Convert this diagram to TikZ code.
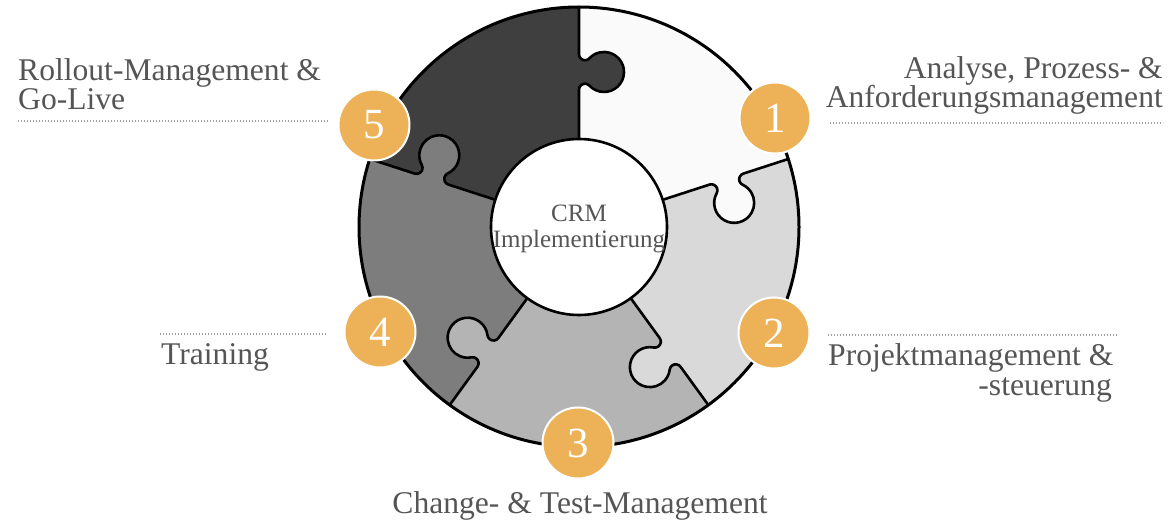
\documentclass[tikz,border=0pt]{standalone}
\usepackage{fontspec}
\setmainfont{Liberation Serif}
\definecolor{txtgray}{HTML}{555555}
\definecolor{dotgray}{HTML}{A0A0A0}
\definecolor{orange1}{RGB}{237,178,87}
\definecolor{c1}{HTML}{FAFAFA}
\definecolor{c2}{HTML}{D9D9D9}
\definecolor{c3}{HTML}{B4B4B4}
\definecolor{c4}{HTML}{7D7D7D}
\definecolor{c5}{HTML}{3F3F3F}
\newcommand\knobshape{arc[start angle=90,end angle=-47,radius=6] arc[start angle=133,end angle=407,radius=20] arc[start angle=227,end angle=90,radius=6]}
\tikzset{
  lbl/.style={text=txtgray, font=\fontsize{31.6}{31.6}\selectfont, inner sep=0pt},
  corelbl/.style={text=txtgray, font=\fontsize{25}{26}\selectfont, inner sep=0pt, align=center},
  dotline/.style={draw=dotgray, line width=1.3pt, dash pattern=on 1.3pt off 1.7pt},
  badge/.style={circle, fill=orange1, draw=white, line width=2pt, minimum size=71pt, inner sep=0pt, text=white, font=\fontsize{43}{43}\selectfont},
  seam/.style={line width=2.6pt, line join=round},
}
\begin{document}
\begin{tikzpicture}[x=1pt,y=1pt]
\useasboundingbox (0,0) rectangle (1169,-526);
\begin{scope}[shift={(579,-227)}]
  % pieces
  \fill[c1] (0,0) -- (18:220) arc[start angle=18,end angle=90,radius=220] -- cycle;
  \fill[c2] (0,0) -- (-54:220) arc[start angle=-54,end angle=18,radius=220] -- cycle;
  \fill[c3] (0,0) -- (-126:220) arc[start angle=-126,end angle=-54,radius=220] -- cycle;
  \fill[c4] (0,0) -- (162:220) arc[start angle=162,end angle=234,radius=220] -- cycle;
  \fill[c5] (0,0) -- (90:220) arc[start angle=90,end angle=162,radius=220] -- cycle;
  % knobs
  \foreach \a/\c in {90/c5,18/c1,-54/c2,-126/c3,162/c4}{
    \fill[\c, rotate=\a] (137.3,0.5) -- (137.3,0) \knobshape -- (172.76,0.5) -- cycle;
  }
  % seams
  \foreach \a in {90,18,-54,-126,162}{
    \draw[seam, rotate=\a] (80,0) -- (137.3,0) \knobshape -- (220,0);
  }
  \draw[line width=3pt] (0,0) circle[radius=220];
  \node[circle, draw, fill=white, line width=2.6pt, minimum size=176pt, inner sep=0pt] (core) at (0,0) {};
  \node[corelbl] (coretxt) at (0,-2) {CRM\\Implementierung};
\end{scope}
% badges
\node[badge] (b1) at (775,-118) {1};
\node[badge] (b2) at (774,-333) {2};
\node[badge] (b3) at (578,-443) {3};
\node[badge] (b4) at (380,-332) {4};
\node[badge] (b5) at (374,-125) {5};
% labels
\node[lbl, anchor=base west] (l5a) at (18,-81) {Rollout-Management \&};
\node[lbl, anchor=base west] (l5b) at (18,-110) {Go-Live};
\coordinate (d5a) at (18,-121);
\coordinate (d5b) at (329,-121);
\draw[dotline] (d5a) -- (d5b);
\node[lbl, anchor=base east] (l1a) at (1163,-79) {Analyse, Prozess- \&};
\node[lbl, anchor=base east] (l1b) at (1163,-108) {Anforderungsmanagement};
\coordinate (d1a) at (830,-123);
\coordinate (d1b) at (1163,-123);
\draw[dotline] (d1a) -- (d1b);
\coordinate (d4a) at (160,-334);
\coordinate (d4b) at (327,-334);
\draw[dotline] (d4a) -- (d4b);
\node[lbl, anchor=base west] (l4) at (161,-364) {Training};
\coordinate (d2a) at (828,-335);
\coordinate (d2b) at (1117,-335);
\draw[dotline] (d2a) -- (d2b);
\node[lbl, anchor=base west] (l2a) at (828,-365) {Projektmanagement \&};
\node[lbl, anchor=base east] (l2b) at (1112,-395) {-steuerung};
\node[lbl, anchor=base] (l3) at (580,-513) {Change- \& Test-Management};
\end{tikzpicture}
\end{document}
